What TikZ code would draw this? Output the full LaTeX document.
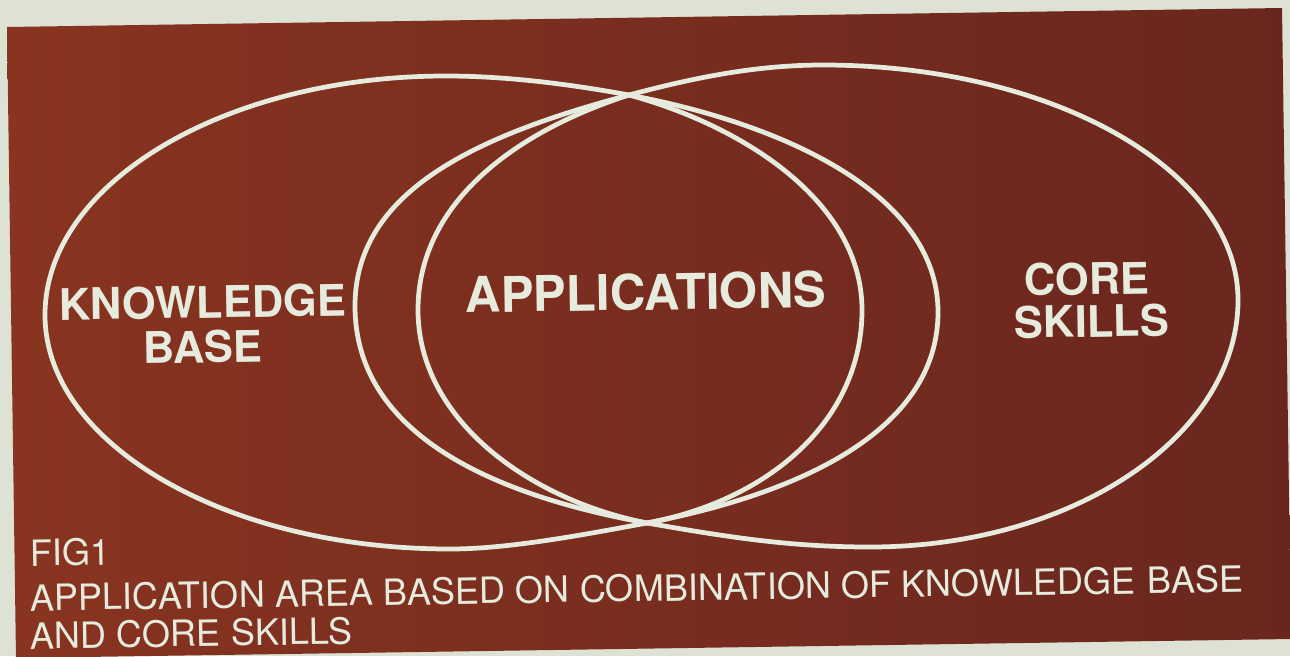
\documentclass[tikz,border=0pt]{standalone}
\usepackage{fontspec}
\setmainfont{TeX Gyre Heros}
\definecolor{paper}{RGB}{221,226,212}
\definecolor{brownL}{RGB}{136,52,32}
\definecolor{brownR}{RGB}{106,38,30}
\definecolor{chalk}{RGB}{230,235,222}
\begin{document}
\begin{tikzpicture}[x=0.02cm,y=-0.02cm,
  outline/.style={draw=chalk,line width=2.7pt,line join=round},
  lbl/.style={text=chalk,inner sep=0pt,anchor=base,rotate=0.9,font=\bfseries\fontsize{24.8}{30}\selectfont},
  captxt/.style={text=chalk,inner sep=0pt,anchor=base west,rotate=0.9,font=\fontsize{20.6}{24}\selectfont}]
\useasboundingbox (0,0) rectangle (1290,656);
\clip (0,0) rectangle (1290,656);
\fill[paper] (0,0) rectangle (1290,656);
\shade[left color=brownL,right color=brownR] (7,27) -- (1282,8) -- (1291,639) -- (16,658) -- cycle;
% crossing points
\coordinate (T) at (629,95);
\coordinate (B) at (647,523);
% knowledge base outline
\draw[outline] (45,315) .. controls (45,183) and (225,76) .. (446,76)
  .. controls (506,76) and (569,84) .. (T)
  .. controls (779,123) and (938,192) .. (938,312)
  .. controls (938,432) and (797,494) .. (B)
  .. controls (587,534) and (510,549) .. (450,549)
  .. controls (226,549) and (45,444) .. cycle;
% core skills outline
\draw[outline] (355,306) .. controls (355,190) and (479,135) .. (T)
  .. controls (689,79) and (753,65) .. (823,65)
  .. controls (1052,65) and (1238,170) .. (1238,300)
  .. controls (1238,436) and (1073,547) .. (870,547)
  .. controls (790,547) and (727,537) .. (B)
  .. controls (497,496) and (355,436) .. cycle;
% applications outline
\draw[outline] (T) .. controls (520,130) and (418,200) .. (418,310)
  .. controls (418,420) and (530,500) .. (B)
  .. controls (770,500) and (862,420) .. (862,310)
  .. controls (862,200) and (740,125) .. cycle;
\node[lbl] (kb1) at (203,318) {KNOWLEDGE};
\node[lbl] (kb2) at (203,363) {BASE};
\node[lbl,font=\bfseries\fontsize{28}{34}\selectfont] (app) at (646,310) {APPLICATIONS};
\node[lbl] (cs1) at (1087,295) {CORE};
\node[lbl] (cs2) at (1092,337) {SKILLS};
\node[captxt] (fig) at (30,566) {FIG1};
\node[captxt] (cap1) at (30,611) {APPLICATION AREA BASED ON COMBINATION OF KNOWLEDGE\hspace{0.32em}BASE};
\node[captxt] (cap2) at (30,649) {AND CORE SKILLS};
\end{tikzpicture}
\end{document}
